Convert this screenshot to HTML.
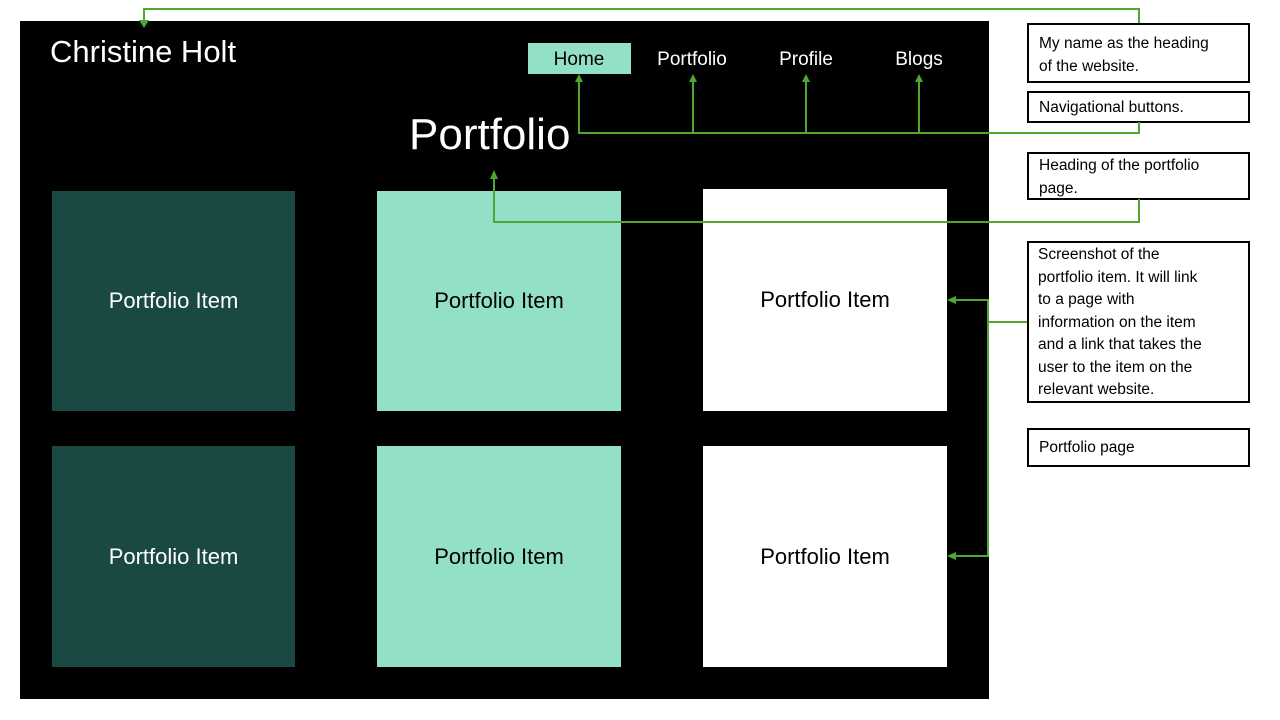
<!DOCTYPE html>
<html><head><meta charset="utf-8"><style>
body{margin:0;width:1280px;height:720px;background:#fff;position:relative;overflow:hidden;font-family:"Liberation Sans",sans-serif}
div{position:absolute;box-sizing:border-box}
.bg{left:20px;top:21px;width:969px;height:678px;background:#000}
.card{display:flex;align-items:center;justify-content:center;font-size:22px}
.d{background:#1a4842;color:#fff}.m{background:#93e0c8;color:#000}.w{background:#fff;color:#000}
.nav{color:#fff;font-size:19px;top:49px;width:120px;text-align:center}
.box{border:2px solid #000;left:1027px;width:223px;font-size:15.5px;line-height:22.5px;padding:6px 0 0 10px;color:#000;white-space:nowrap}
</style></head><body>
<div class="bg"></div>
<div style="left:50px;top:34px;color:#fff;font-size:31px">Christine Holt</div>
<div style="left:528px;top:43px;width:103px;height:31px;background:#93e0c8"></div>
<div class="nav" style="left:519px;color:#000">Home</div>
<div class="nav" style="left:632px">Portfolio</div>
<div class="nav" style="left:746px">Profile</div>
<div class="nav" style="left:859px">Blogs</div>
<div style="left:409px;top:110px;color:#fff;font-size:44px">Portfolio</div>
<div class="card d" style="left:52px;top:191px;width:243px;height:220px">Portfolio Item</div>
<div class="card m" style="left:377px;top:191px;width:244px;height:220px">Portfolio Item</div>
<div class="card w" style="left:703px;top:189px;width:244px;height:222px">Portfolio Item</div>
<div class="card d" style="left:52px;top:446px;width:243px;height:221px">Portfolio Item</div>
<div class="card m" style="left:377px;top:446px;width:244px;height:221px">Portfolio Item</div>
<div class="card w" style="left:703px;top:446px;width:244px;height:221px">Portfolio Item</div>
<div class="box" style="top:23px;height:60px;padding-top:8px">My name as the heading<br>of the website.</div>
<div class="box" style="top:91px;height:32px;padding-top:4px">Navigational buttons.</div>
<div class="box" style="top:152px;height:48px;padding-top:1px">Heading of the portfolio<br>page.</div>
<div class="box" style="top:241px;height:162px;padding:1px 0 0 9px">Screenshot of the<br>portfolio item. It will link<br>to a page with<br>information on the item<br>and a link that takes the<br>user to the item on the<br>relevant website.</div>
<div class="box" style="top:428px;height:39px;padding-top:7px">Portfolio page</div>
<svg width="1280" height="720" style="position:absolute;left:0;top:0" fill="none" stroke="#4ea72e" stroke-width="2">
<polyline points="1139,23 1139,9 144,9 144,22"/>
<polygon points="139,20 149,20 144,28" fill="#4ea72e" stroke="none"/>
<polyline points="1139,122 1139,133 579,133 579,80"/>
<line x1="693" y1="133" x2="693" y2="80"/><line x1="806" y1="133" x2="806" y2="80"/><line x1="919" y1="133" x2="919" y2="80"/>
<g fill="#4ea72e" stroke="none">
<polygon points="575,82 583,82 579,74"/><polygon points="689,82 697,82 693,74"/><polygon points="802,82 810,82 806,74"/><polygon points="915,82 923,82 919,74"/>
<polygon points="490,179 498,179 494,170"/>
<polygon points="956,296 956,304 947,300"/><polygon points="956,552 956,560 947,556"/>
</g>
<polyline points="1139,199 1139,222 494,222 494,177"/>
<polyline points="1027,322 988,322"/>
<polyline points="954,300 988,300 988,556 954,556"/>
</svg>
</body></html>
